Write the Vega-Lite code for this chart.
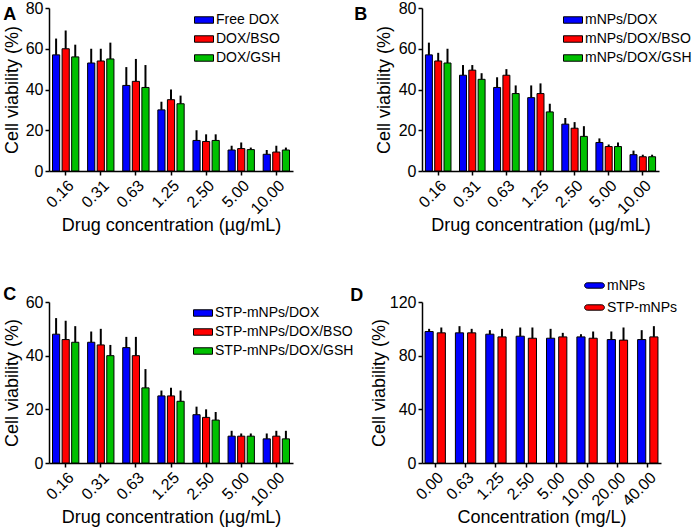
{
  "$schema": "https://vega.github.io/schema/vega-lite/v6.json",
  "padding": {"left": 3, "top": 0, "right": 0, "bottom": 0},
  "background": "white",
  "datasets": {
    "A": [
      {"conc": "0.16", "group": "Free DOX", "value": 57, "err": 65},
      {"conc": "0.16", "group": "DOX/BSO", "value": 60, "err": 69},
      {"conc": "0.16", "group": "DOX/GSH", "value": 56, "err": 62},
      {"conc": "0.31", "group": "Free DOX", "value": 53, "err": 60},
      {"conc": "0.31", "group": "DOX/BSO", "value": 54, "err": 60},
      {"conc": "0.31", "group": "DOX/GSH", "value": 55, "err": 63},
      {"conc": "0.63", "group": "Free DOX", "value": 42, "err": 51},
      {"conc": "0.63", "group": "DOX/BSO", "value": 44, "err": 55},
      {"conc": "0.63", "group": "DOX/GSH", "value": 41, "err": 52},
      {"conc": "1.25", "group": "Free DOX", "value": 30, "err": 34},
      {"conc": "1.25", "group": "DOX/BSO", "value": 35, "err": 40},
      {"conc": "1.25", "group": "DOX/GSH", "value": 33, "err": 37},
      {"conc": "2.50", "group": "Free DOX", "value": 15, "err": 20},
      {"conc": "2.50", "group": "DOX/BSO", "value": 14.5, "err": 18},
      {"conc": "2.50", "group": "DOX/GSH", "value": 15, "err": 18},
      {"conc": "5.00", "group": "Free DOX", "value": 10.3, "err": 12.4},
      {"conc": "5.00", "group": "DOX/BSO", "value": 11, "err": 14},
      {"conc": "5.00", "group": "DOX/GSH", "value": 10.5, "err": 11.5},
      {"conc": "10.00", "group": "Free DOX", "value": 8.2, "err": 10.3},
      {"conc": "10.00", "group": "DOX/BSO", "value": 9.3, "err": 12.4},
      {"conc": "10.00", "group": "DOX/GSH", "value": 10.3, "err": 11.5}
    ],
    "B": [
      {"conc": "0.16", "group": "mNPs/DOX", "value": 57, "err": 63},
      {"conc": "0.16", "group": "mNPs/DOX/BSO", "value": 54, "err": 58},
      {"conc": "0.16", "group": "mNPs/DOX/GSH", "value": 53, "err": 60},
      {"conc": "0.31", "group": "mNPs/DOX", "value": 47, "err": 52},
      {"conc": "0.31", "group": "mNPs/DOX/BSO", "value": 49.5, "err": 52},
      {"conc": "0.31", "group": "mNPs/DOX/GSH", "value": 45, "err": 48},
      {"conc": "0.63", "group": "mNPs/DOX", "value": 41, "err": 46},
      {"conc": "0.63", "group": "mNPs/DOX/BSO", "value": 47, "err": 50},
      {"conc": "0.63", "group": "mNPs/DOX/GSH", "value": 38, "err": 42},
      {"conc": "1.25", "group": "mNPs/DOX", "value": 36, "err": 42},
      {"conc": "1.25", "group": "mNPs/DOX/BSO", "value": 38, "err": 43},
      {"conc": "1.25", "group": "mNPs/DOX/GSH", "value": 29, "err": 33},
      {"conc": "2.50", "group": "mNPs/DOX", "value": 23, "err": 26},
      {"conc": "2.50", "group": "mNPs/DOX/BSO", "value": 21, "err": 24},
      {"conc": "2.50", "group": "mNPs/DOX/GSH", "value": 17, "err": 22},
      {"conc": "5.00", "group": "mNPs/DOX", "value": 14, "err": 16},
      {"conc": "5.00", "group": "mNPs/DOX/BSO", "value": 12, "err": 13},
      {"conc": "5.00", "group": "mNPs/DOX/GSH", "value": 12, "err": 14},
      {"conc": "10.00", "group": "mNPs/DOX", "value": 8, "err": 10},
      {"conc": "10.00", "group": "mNPs/DOX/BSO", "value": 7, "err": 8},
      {"conc": "10.00", "group": "mNPs/DOX/GSH", "value": 7, "err": 8}
    ],
    "C": [
      {"conc": "0.16", "group": "STP-mNPs/DOX", "value": 48, "err": 54},
      {"conc": "0.16", "group": "STP-mNPs/DOX/BSO", "value": 46, "err": 53},
      {"conc": "0.16", "group": "STP-mNPs/DOX/GSH", "value": 45, "err": 51},
      {"conc": "0.31", "group": "STP-mNPs/DOX", "value": 45, "err": 49},
      {"conc": "0.31", "group": "STP-mNPs/DOX/BSO", "value": 44, "err": 50},
      {"conc": "0.31", "group": "STP-mNPs/DOX/GSH", "value": 40, "err": 44},
      {"conc": "0.63", "group": "STP-mNPs/DOX", "value": 43, "err": 47},
      {"conc": "0.63", "group": "STP-mNPs/DOX/BSO", "value": 40, "err": 47},
      {"conc": "0.63", "group": "STP-mNPs/DOX/GSH", "value": 28, "err": 35},
      {"conc": "1.25", "group": "STP-mNPs/DOX", "value": 25, "err": 27},
      {"conc": "1.25", "group": "STP-mNPs/DOX/BSO", "value": 25, "err": 28},
      {"conc": "1.25", "group": "STP-mNPs/DOX/GSH", "value": 23, "err": 27},
      {"conc": "2.50", "group": "STP-mNPs/DOX", "value": 18, "err": 21},
      {"conc": "2.50", "group": "STP-mNPs/DOX/BSO", "value": 17, "err": 20},
      {"conc": "2.50", "group": "STP-mNPs/DOX/GSH", "value": 16, "err": 19},
      {"conc": "5.00", "group": "STP-mNPs/DOX", "value": 10, "err": 12},
      {"conc": "5.00", "group": "STP-mNPs/DOX/BSO", "value": 10, "err": 11},
      {"conc": "5.00", "group": "STP-mNPs/DOX/GSH", "value": 10, "err": 11},
      {"conc": "10.00", "group": "STP-mNPs/DOX", "value": 9, "err": 11},
      {"conc": "10.00", "group": "STP-mNPs/DOX/BSO", "value": 10, "err": 12},
      {"conc": "10.00", "group": "STP-mNPs/DOX/GSH", "value": 9, "err": 12}
    ],
    "D": [
      {"conc": "0.00", "group": "mNPs", "value": 98, "err": 100},
      {"conc": "0.00", "group": "STP-mNPs", "value": 97, "err": 101},
      {"conc": "0.63", "group": "mNPs", "value": 97, "err": 102},
      {"conc": "0.63", "group": "STP-mNPs", "value": 97, "err": 100},
      {"conc": "1.25", "group": "mNPs", "value": 96, "err": 99},
      {"conc": "1.25", "group": "STP-mNPs", "value": 94, "err": 100},
      {"conc": "2.50", "group": "mNPs", "value": 94.5, "err": 101},
      {"conc": "2.50", "group": "STP-mNPs", "value": 93, "err": 101},
      {"conc": "5.00", "group": "mNPs", "value": 93, "err": 100},
      {"conc": "5.00", "group": "STP-mNPs", "value": 94, "err": 97},
      {"conc": "10.00", "group": "mNPs", "value": 94, "err": 96},
      {"conc": "10.00", "group": "STP-mNPs", "value": 93, "err": 98},
      {"conc": "20.00", "group": "mNPs", "value": 92, "err": 98},
      {"conc": "20.00", "group": "STP-mNPs", "value": 91.6, "err": 101},
      {"conc": "40.00", "group": "mNPs", "value": 92, "err": 99},
      {"conc": "40.00", "group": "STP-mNPs", "value": 94, "err": 102}
    ]
  },
  "columns": 2,
  "bounds": "flush",
  "spacing": {"row": 131, "column": 129},
  "resolve": {"scale": {"color": "independent", "xOffset": "independent"}, "legend": {"color": "independent"}},
  "concat": [
    {
      "title": {"text": "A", "offset": -24},
      "width": 244, "height": 163,
      "data": {"name": "A"},
      "layer": [
        {
          "mark": {"type": "bar", "stroke": "black", "strokeWidth": 1},
          "encoding": {
            "x": {"field": "conc", "type": "nominal", "sort": null, "scale": {"paddingInner": 0.25, "paddingOuter": 0.1}, "axis": {"title": "Drug concentration (µg/mL)", "labelAngle": -45}},
            "xOffset": {"field": "group", "type": "nominal", "sort": null, "scale": {"paddingInner": 0.25, "paddingOuter": 0}},
            "y": {"field": "value", "type": "quantitative", "scale": {"domain": [0, 80], "nice": false}, "axis": {"values": [0, 20, 40, 60, 80], "title": "Cell viability (%)", "titlePadding": 4}},
            "color": {"field": "group", "type": "nominal", "sort": null, "scale": {"range": ["#0000FF", "#FF0000", "#00C000"]}, "legend": {"legendX": 145, "legendY": 2}}
          }
        },
        {
          "mark": {"type": "bar", "color": "black", "width": 2},
          "encoding": {
            "x": {"field": "conc", "type": "nominal", "sort": null},
            "xOffset": {"field": "group", "type": "nominal", "sort": null},
            "y": {"field": "value", "type": "quantitative"},
            "y2": {"field": "err"}
          }
        }
      ]
    },
    {
      "title": {"text": "B", "offset": -24, "dx": -21},
      "width": 237, "height": 163,
      "data": {"name": "B"},
      "layer": [
        {
          "mark": {"type": "bar", "stroke": "black", "strokeWidth": 1},
          "encoding": {
            "x": {"field": "conc", "type": "nominal", "sort": null, "scale": {"paddingInner": 0.25, "paddingOuter": 0.1}, "axis": {"title": "Drug concentration (µg/mL)", "labelAngle": -45}},
            "xOffset": {"field": "group", "type": "nominal", "sort": null, "scale": {"paddingInner": 0.25, "paddingOuter": 0}},
            "y": {"field": "value", "type": "quantitative", "scale": {"domain": [0, 80], "nice": false}, "axis": {"values": [0, 20, 40, 60, 80], "title": "Cell viability (%)", "titlePadding": 5}},
            "color": {"field": "group", "type": "nominal", "sort": null, "scale": {"range": ["#0000FF", "#FF0000", "#00C000"]}, "legend": {"legendX": 141, "legendY": 2}}
          }
        },
        {
          "mark": {"type": "bar", "color": "black", "width": 2},
          "encoding": {
            "x": {"field": "conc", "type": "nominal", "sort": null},
            "xOffset": {"field": "group", "type": "nominal", "sort": null},
            "y": {"field": "value", "type": "quantitative"},
            "y2": {"field": "err"}
          }
        }
      ]
    },
    {
      "title": {"text": "C", "offset": -10},
      "width": 244, "height": 161,
      "data": {"name": "C"},
      "layer": [
        {
          "mark": {"type": "bar", "stroke": "black", "strokeWidth": 1},
          "encoding": {
            "x": {"field": "conc", "type": "nominal", "sort": null, "scale": {"paddingInner": 0.25, "paddingOuter": 0.1}, "axis": {"title": "Drug concentration (µg/mL)", "labelAngle": -45}},
            "xOffset": {"field": "group", "type": "nominal", "sort": null, "scale": {"paddingInner": 0.25, "paddingOuter": 0}},
            "y": {"field": "value", "type": "quantitative", "scale": {"domain": [0, 60], "nice": false}, "axis": {"values": [0, 20, 40, 60], "title": "Cell viability (%)", "titlePadding": 4}},
            "color": {"field": "group", "type": "nominal", "sort": null, "scale": {"range": ["#0000FF", "#FF0000", "#00C000"]}, "legend": {"legendX": 144, "legendY": 1}}
          }
        },
        {
          "mark": {"type": "bar", "color": "black", "width": 2},
          "encoding": {
            "x": {"field": "conc", "type": "nominal", "sort": null},
            "xOffset": {"field": "group", "type": "nominal", "sort": null},
            "y": {"field": "value", "type": "quantitative"},
            "y2": {"field": "err"}
          }
        }
      ]
    },
    {
      "title": {"text": "D", "offset": -30, "dx": -20},
      "width": 239, "height": 161,
      "data": {"name": "D"},
      "layer": [
        {
          "mark": {"type": "bar", "stroke": "black", "strokeWidth": 1},
          "encoding": {
            "x": {"field": "conc", "type": "nominal", "sort": null, "scale": {"paddingInner": 0.33, "paddingOuter": 0.1}, "axis": {"title": "Concentration (mg/L)", "labelAngle": -45}},
            "xOffset": {"field": "group", "type": "nominal", "sort": null, "scale": {"paddingInner": 0.33, "paddingOuter": 0}},
            "y": {"field": "value", "type": "quantitative", "scale": {"domain": [0, 120], "nice": false}, "axis": {"values": [0, 40, 80, 120], "title": "Cell viability (%)", "titlePadding": 1}},
            "color": {"field": "group", "type": "nominal", "sort": null, "scale": {"range": ["#0000FF", "#FF0000"]}, "legend": {"legendX": 162, "legendY": -27, "rowPadding": 4, "symbolType": "M-0.72,-0.27H0.72A0.27,0.27 0 0 1 0.72,0.27H-0.72A0.27,0.27 0 0 1 -0.72,-0.27Z", "symbolSize": 400}}
          }
        },
        {
          "mark": {"type": "bar", "color": "black", "width": 2},
          "encoding": {
            "x": {"field": "conc", "type": "nominal", "sort": null},
            "xOffset": {"field": "group", "type": "nominal", "sort": null},
            "y": {"field": "value", "type": "quantitative"},
            "y2": {"field": "err"}
          }
        }
      ]
    }
  ],
  "config": {
    "font": "Liberation Sans",
    "view": {"stroke": null},
    "axis": {
      "grid": false,
      "domainColor": "black", "domainWidth": 1.5,
      "tickColor": "black", "tickWidth": 1.5, "tickSize": 4,
      "labelColor": "black", "labelFontSize": 16, "labelFont": "Liberation Sans", "labelPadding": 2,
      "titleColor": "black", "titleFontSize": 18, "titleFontWeight": "normal", "titleFont": "Liberation Sans"
    },
    "axisX": {"titlePadding": 0},
    "legend": {
      "orient": "none", "title": null,
      "labelFontSize": 14, "labelColor": "black", "labelFont": "Liberation Sans", "labelOffset": 2,
      "symbolType": "M-1,-0.34H1V0.34H-1Z", "symbolSize": 361,
      "symbolStrokeColor": "black", "symbolStrokeWidth": 1, "symbolOpacity": 1,
      "rowPadding": 2, "padding": 0
    },
    "title": {"anchor": "start", "frame": "bounds", "fontSize": 18, "fontWeight": "bold", "font": "Liberation Sans", "color": "black"}
  }
}
